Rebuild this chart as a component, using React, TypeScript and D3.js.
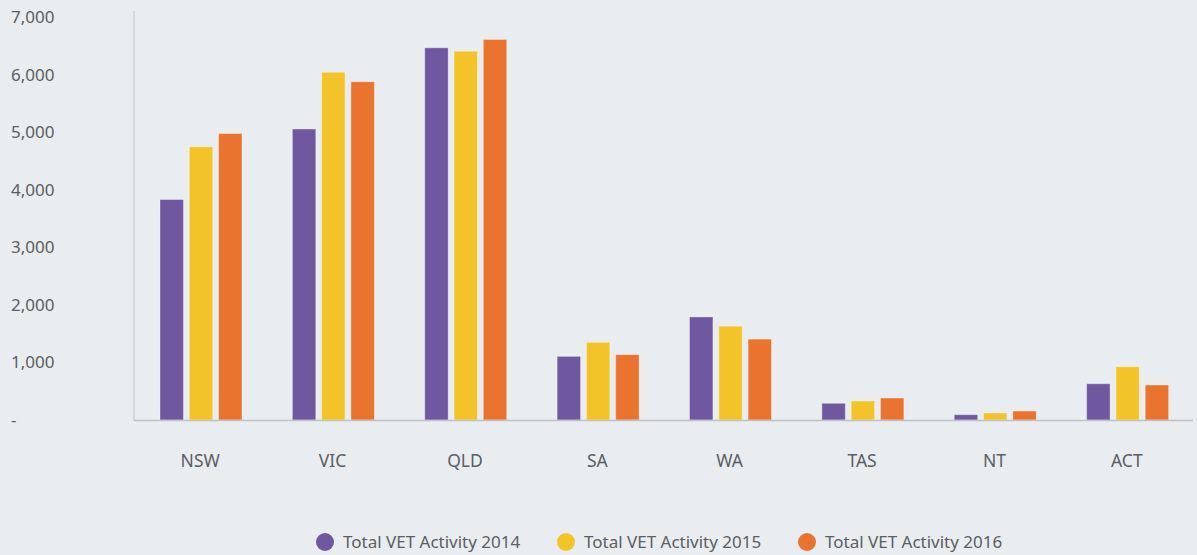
import React from "react";
import {scaleBand, scaleLinear, format} from "d3";

const states = ["NSW", "VIC", "QLD", "SA", "WA", "TAS", "NT", "ACT"];
const seriesNames = ["Total VET Activity 2014", "Total VET Activity 2015", "Total VET Activity 2016"];
const colors = ["#6F58A0", "#F2C42A", "#EA7330"];
const vet2014 = [3830, 5055, 6465, 1105, 1790, 290, 92, 630];
const vet2015 = [4745, 6040, 6405, 1350, 1630, 330, 122, 925];
const vet2016 = [4975, 5875, 6610, 1135, 1405, 382, 156, 608];
const yTicks = [0, 1000, 2000, 3000, 4000, 5000, 6000, 7000];

const W = 1197;
const H = 555;
const textColor = "#5b5e62";
const font = "'Noto Sans', sans-serif";

export default function App() {
  const series = [vet2014, vet2015, vet2016];
  const x = scaleBand().domain(states).range([134, 1193]);
  const inner = scaleBand().domain(["0", "1", "2"]).range([26, 108]).paddingInner(0.2);
  const y = scaleLinear().domain([0, 7000]).range([420, 17]);
  const fmt = format(",");

  return (
    <svg width={W} height={H} style={{position: "absolute", left: 0, top: 0, background: "#E9EDF0"}}>
      <rect width={W} height={H} fill="#E9EDF0"/>
      {yTicks.map(t => (
        <text key={t} x={11} y={y(t)} dy="0.35em" fill={textColor}
              style={{fontFamily: font, fontSize: "17px"}}>
          {t === 0 ? "-" : fmt(t)}
        </text>
      ))}
      {states.map((s, i) => (
        <g key={s} transform={`translate(${x(s)},0)`}>
          {series.map((vals, k) => (
            <rect key={k} x={inner(String(k))} width={inner.bandwidth()}
                  y={y(vals[i])} height={y(0) - y(vals[i])}
                  fill={colors[k]} stroke="rgba(255,255,255,0.35)" strokeWidth={1}/>
          ))}
          <text x={x.bandwidth() / 2} y={461} dy="0.35em" textAnchor="middle" fill={textColor}
                style={{fontFamily: font, fontSize: "17.5px"}}>
            {s}
          </text>
        </g>
      ))}
      <line x1={134} x2={134} y1={11} y2={420.5} stroke="#c0c3c6" strokeWidth={1}/>
      <line x1={134} x2={1193} y1={420.5} y2={420.5} stroke="#c0c3c6" strokeWidth={1.5}/>
      {seriesNames.map((n, k) => (
        <g key={n} transform={`translate(${325 + k * 241},542)`}>
          <circle r={9} fill={colors[k]}/>
          <text x={18} dy="0.35em" fill={textColor} style={{fontFamily: font, fontSize: "17px"}}>
            {n}
          </text>
        </g>
      ))}
    </svg>
  );
}
